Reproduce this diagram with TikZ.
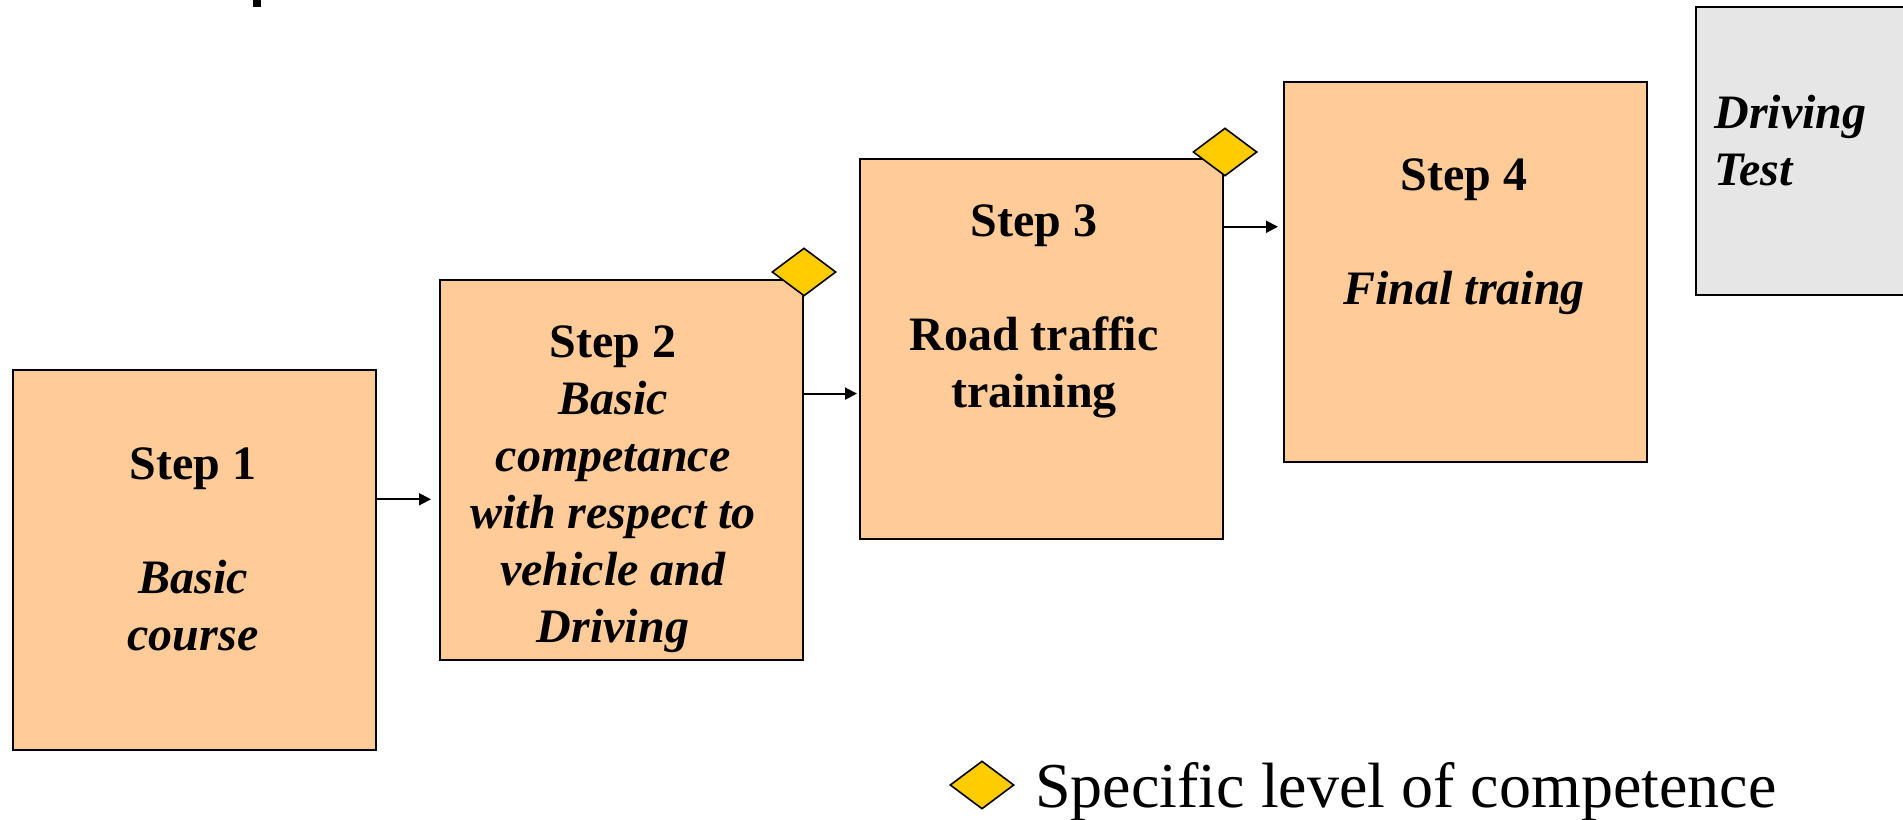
\documentclass[tikz,border=0pt]{standalone}
\usepackage{fontspec}
\setmainfont{Liberation Serif}
\usetikzlibrary{shapes.geometric,arrows.meta,calc}
\definecolor{peach}{HTML}{FFCC99}
\definecolor{gold}{HTML}{FFCC00}
\definecolor{testgray}{HTML}{E6E6E6}
\begin{document}
\begin{tikzpicture}[x=0.5pt,y=-0.5pt,
  stepbox/.style={draw=black,line width=1pt,fill=peach,minimum width=181.5pt,minimum height=190pt,inner sep=0pt,anchor=north west},
  steptext/.style={inner sep=0pt,anchor=north,align=center,font=\bfseries\fontsize{24}{28.5}\selectfont},
  gem/.style={diamond,draw=black,line width=0.8pt,fill=gold,minimum width=32pt,minimum height=24pt,inner sep=0pt},
  arr/.style={line width=1pt,-{Triangle[length=6pt,width=6pt]}}]
\useasboundingbox (0,0) rectangle (1903,820);
\clip (0,0) rectangle (1903,820);
% fragment of cut-off title
\fill[black] (253,0) rectangle (261,7);
% boxes
\node[stepbox] (s1) at (12,369) {};
\node[stepbox] (s2) at (439,279) {};
\node[stepbox] (s3) at (859,158) {};
\node[stepbox] (s4) at (1283,81) {};
\node[draw=black,line width=1pt,fill=testgray,minimum width=108pt,minimum height=144pt,inner sep=0pt,anchor=north west] (dt) at (1695,6) {};
% texts
\node[steptext] (t1) at (193,447) {Step 1\\[28.5pt]\textit{Basic}\\\textit{course}};
\node[steptext] (t2) at (613,325) {Step 2\\\textit{Basic}\\\textit{competance}\\\textit{with respect to}\\\textit{vehicle and}\\\textit{Driving}};
\node[steptext] (t3) at (1034,204) {Step 3\\[28.5pt]Road traffic\\training};
\node[steptext] (t4) at (1464,158) {Step 4\\[28.5pt]\textit{Final traing}};
\node[steptext,anchor=north west,align=left] (t5) at (1714,95) {\textit{Driving}\\\textit{Test}};
% arrows
\draw[arr,shorten >=4pt] ($(s1.north east)!0.341!(s1.south east)$) coordinate (a1) -- (a1 -| s2.west);
\draw[arr,shorten >=1pt] ($(s2.north east)!0.30!(s2.south east)$) coordinate (a2) -- (a2 -| s3.west);
\draw[arr,shorten >=2.5pt] ($(s3.north east)!0.18!(s3.south east)$) coordinate (a3) -- (a3 -| s4.west);
% diamonds
\node[gem] (d2) at ($(s2.north east)+(0,-7)$) {};
\node[gem] (d3) at ($(s3.north east)+(1,-6)$) {};
% legend
\node[gem] (dl) at (982,785) {};
\node[inner sep=0pt,anchor=base west,font=\fontsize{32}{38}\selectfont] (lt) at (1035,807) {Specific level of competence};
\end{tikzpicture}
\end{document}
